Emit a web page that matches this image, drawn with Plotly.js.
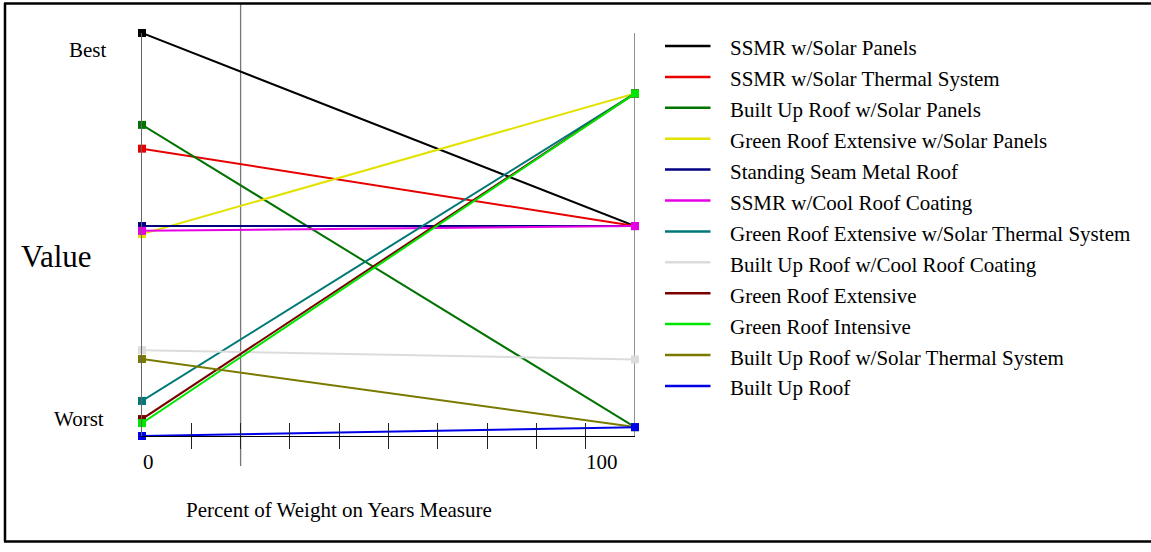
<!DOCTYPE html>
<html>
<head>
<meta charset="utf-8">
<script src="https://cdn.plot.ly/plotly-3.0.1.min.js"></script>
<style>
  html, body { margin: 0; padding: 0; background: #ffffff; }
  #chart { width: 1151px; height: 552px; }
</style>
</head>
<body>
<div id="chart"></div>
<script>
// ---- data ----
const seriesNames = [
  "SSMR w/Solar Panels",
  "SSMR w/Solar Thermal System",
  "Built Up Roof w/Solar Panels",
  "Green Roof Extensive w/Solar Panels",
  "Standing Seam Metal Roof",
  "SSMR w/Cool Roof Coating",
  "Green Roof Extensive w/Solar Thermal System",
  "Built Up Roof w/Cool Roof Coating",
  "Green Roof Extensive",
  "Green Roof Intensive",
  "Built Up Roof w/Solar Thermal System",
  "Built Up Roof"
];
const seriesColors = [
  "#000000", "#e60000", "#007300", "#e2e200", "#000080", "#e600e6",
  "#007878", "#dcdcdc", "#7a0000", "#00e600", "#7a7a00", "#0000e6"
];
const weights = [0, 100];                    // Percent of Weight on Years Measure
const valueAtWeight0 = [1.000, 0.713, 0.772, 0.501, 0.521, 0.509, 0.087, 0.213, 0.042, 0.032, 0.191, 0.000];
const valueAtWeight100 = [0.521, 0.521, 0.022, 0.850, 0.521, 0.521, 0.850, 0.190, 0.850, 0.850, 0.022, 0.022];
const minorTicks = [10, 20, 30, 40, 50, 60, 70, 80, 90];
const currentWeight = 20;
const xAxisTitle = "Percent of Weight on Years Measure";
const yAxisTitle = "Value";
const yBestLabel = "Best";
const yWorstLabel = "Worst";
const xEndLabels = ["0", "100"];

// ---- layout helpers (pixel -> paper) ----
const L = 142, R = 635, T = 33, B = 436;
const W = R - L, H = B - T;
const px = p => (p - L) / W;
const py = p => (B - p) / H;
const FONT = "Liberation Serif, Times New Roman, serif";

const traces = seriesNames.map((name, i) => ({
  type: "scatter",
  mode: "lines+markers",
  name: name,
  x: weights,
  y: [valueAtWeight0[i], valueAtWeight100[i]],
  line: { color: seriesColors[i], width: 2 },
  marker: { color: seriesColors[i], symbol: "square", size: 8 },
  cliponaxis: false,
  showlegend: false,
  hoverinfo: "name+x+y"
}));

const shapes = [];
const annotations = [];

// frame (top, left, bottom)
shapes.push({ type: "line", xref: "paper", yref: "paper", x0: px(4), x1: px(1151), y0: py(3.5), y1: py(3.5), line: { color: "#000", width: 2.5 } });
shapes.push({ type: "line", xref: "paper", yref: "paper", x0: px(5), x1: px(5), y0: py(3), y1: py(541.5), line: { color: "#000", width: 2.5 } });
shapes.push({ type: "line", xref: "paper", yref: "paper", x0: px(4), x1: px(1151), y0: py(541.5), y1: py(541.5), line: { color: "#000", width: 2.5 } });

// right axis line
shapes.push({ type: "line", xref: "x", yref: "paper", x0: 100, x1: 100, y0: 0, y1: 1, line: { color: "#222", width: 1 }, layer: "below" });
// current weight indicator
shapes.push({ type: "line", xref: "x", yref: "paper", x0: currentWeight, x1: currentWeight, y0: py(466), y1: py(3), line: { color: "#777", width: 1.3 }, layer: "below" });

// custom legend
seriesNames.forEach((name, i) => {
  const ly = 46 + i * 30.9;
  shapes.push({ type: "line", xref: "paper", yref: "paper", x0: px(665), x1: px(710.5), y0: py(ly), y1: py(ly), line: { color: seriesColors[i], width: 2.5 } });
  annotations.push({ xref: "paper", yref: "paper", x: px(728), y: py(ly + 2.5), xanchor: "left", yanchor: "middle", showarrow: false, text: name, font: { family: FONT, size: 21, color: "#000" } });
});

// axis text
annotations.push({ xref: "paper", yref: "paper", x: px(109), y: py(50), xanchor: "right", yanchor: "middle", showarrow: false, text: yBestLabel, font: { family: FONT, size: 21, color: "#000" } });
annotations.push({ xref: "paper", yref: "paper", x: px(106), y: py(419), xanchor: "right", yanchor: "middle", showarrow: false, text: yWorstLabel, font: { family: FONT, size: 21, color: "#000" } });
annotations.push({ xref: "paper", yref: "paper", x: px(19), y: py(256), xanchor: "left", yanchor: "middle", showarrow: false, text: yAxisTitle, font: { family: FONT, size: 31, color: "#000" } });
annotations.push({ xref: "paper", yref: "paper", x: px(141), y: py(462), xanchor: "left", yanchor: "middle", showarrow: false, text: xEndLabels[0], font: { family: FONT, size: 21, color: "#000" } });
annotations.push({ xref: "paper", yref: "paper", x: px(584), y: py(462), xanchor: "left", yanchor: "middle", showarrow: false, text: xEndLabels[1], font: { family: FONT, size: 21, color: "#000" } });
annotations.push({ xref: "paper", yref: "paper", x: px(184), y: py(510), xanchor: "left", yanchor: "middle", showarrow: false, text: xAxisTitle, font: { family: FONT, size: 21, color: "#000" } });

const layout = {
  width: 1151, height: 552,
  margin: { l: L, r: 1151 - R, t: T, b: 552 - B, pad: 0 },
  paper_bgcolor: "#ffffff",
  plot_bgcolor: "rgba(0,0,0,0)",
  showlegend: false,
  font: { family: FONT, size: 21, color: "#000" },
  xaxis: {
    range: [0, 100], fixedrange: true,
    showgrid: false, zeroline: false,
    showline: true, linecolor: "#000", linewidth: 1,
    tickmode: "array", tickvals: minorTicks,
    ticks: "outside", ticklen: 12, tickwidth: 1, tickcolor: "#222",
    showticklabels: false
  },
  xaxis2: {
    overlaying: "x", anchor: "y", side: "bottom",
    range: [0, 100], fixedrange: true,
    showgrid: false, zeroline: false, showline: false,
    tickmode: "array", tickvals: minorTicks,
    ticks: "inside", ticklen: 13, tickwidth: 1, tickcolor: "#222",
    showticklabels: false
  },
  yaxis: {
    range: [0, 1], fixedrange: true,
    showgrid: false, zeroline: false,
    showline: true, linecolor: "#666", linewidth: 1,
    ticks: "", showticklabels: false
  },
  shapes: shapes,
  annotations: annotations
};

// dummy invisible trace so the overlay axis draws its ticks
traces.unshift({ type: "scatter", x: [], y: [], xaxis: "x2", yaxis: "y", showlegend: false, hoverinfo: "skip" });

Plotly.newPlot("chart", traces, layout, { displayModeBar: false, staticPlot: true });
</script>
</body>
</html>
